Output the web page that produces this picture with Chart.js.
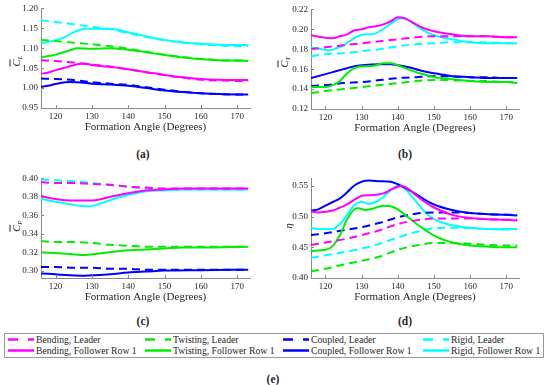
<!DOCTYPE html>
<html>
<head>
<meta charset="utf-8">
<script src="https://cdn.jsdelivr.net/npm/chart.js@4.4.1/dist/chart.umd.min.js"></script>
<style>
  body { margin: 0; background: #fff; font-family: "Liberation Serif", "Times New Roman", serif; color: #262626; }
  #page { position: relative; width: 550px; height: 385px; overflow: hidden; }
  canvas { position: absolute; }
  .ylab { position: absolute; font-size: 10.5px; transform: translate(-50%, -50%) rotate(-90deg); white-space: nowrap; }
  .ylab sub { font-size: 7px; font-style: italic; vertical-align: -2px; }
  .ov { text-decoration: overline; font-style: italic; }
  .tag { position: absolute; font-weight: bold; font-size: 11.5px; transform: translate(-50%, -50%); }
  #legend { position: absolute; left: 4px; top: 333px; width: 538px; height: 23px; border: 1px solid #999; }
  .item { position: absolute; font-size: 9.7px; line-height: 11px; white-space: nowrap; }
  .item svg { position: absolute; left: 0; top: 3px; }
  .item span { position: absolute; left: 28px; top: 0; }
</style>
</head>
<body>
<div id="page">
  <canvas id="chartA" width="260" height="134" style="left:0;top:0"></canvas>
  <canvas id="chartB" width="259" height="134" style="left:270px;top:1px"></canvas>
  <canvas id="chartC" width="260" height="134" style="left:0;top:170px"></canvas>
  <canvas id="chartD" width="259" height="134" style="left:270px;top:170px"></canvas>

  <div class="ylab" style="left:17px;top:61px"><span class="ov">C</span><sub>L</sub></div>
  <div class="ylab" style="left:285px;top:62px"><span class="ov">C</span><sub>T</sub></div>
  <div class="ylab" style="left:17px;top:226px"><span class="ov">C</span><sub>P</sub></div>
  <div class="ylab" style="left:288px;top:226px"><i>η</i></div>

  <div class="tag" style="left:143px;top:154px">(a)</div>
  <div class="tag" style="left:405px;top:154px">(b)</div>
  <div class="tag" style="left:143px;top:321px">(c)</div>
  <div class="tag" style="left:405px;top:321px">(d)</div>
  <div class="tag" style="left:273px;top:379px">(e)</div>

  <div id="legend"></div>
</div>

<script>
/* ================= DATA ================= */
const xTicks = [120, 130, 140, 150, 160, 170];
const xMin = 116, xMax = 173.5;

// (a) lift coefficient, [angle, value]
const clBendLead  = [[116,1.070],[120,1.068],[125,1.064],[130,1.059],[135,1.054],[140,1.047],[145,1.040],[150,1.032],[155,1.026],[160,1.021],[165,1.019],[170,1.018],[173,1.018]];
const clBendFoll  = [[116,1.036],[118,1.039],[120,1.045],[123,1.052],[126,1.060],[128,1.062],[130,1.058],[133,1.055],[136,1.052],[140,1.047],[145,1.040],[150,1.033],[155,1.027],[160,1.023],[165,1.021],[170,1.020],[173,1.020]];
const clTwistLead = [[116,1.121],[120,1.118],[125,1.114],[130,1.110],[135,1.105],[140,1.099],[145,1.091],[150,1.084],[155,1.078],[160,1.073],[165,1.070],[170,1.069],[173,1.069]];
const clTwistFoll = [[116,1.077],[120,1.084],[124,1.095],[126,1.100],[130,1.099],[135,1.100],[140,1.096],[145,1.090],[150,1.083],[155,1.077],[160,1.073],[165,1.070],[170,1.069],[173,1.068]];
const clCoupLead  = [[116,1.024],[120,1.023],[125,1.020],[130,1.015],[135,1.011],[140,1.008],[145,1.002],[150,0.996],[155,0.991],[160,0.987],[165,0.985],[170,0.984],[173,0.984]];
const clCoupFoll  = [[116,1.003],[118,1.006],[120,1.010],[124,1.015],[127,1.014],[130,1.011],[135,1.009],[140,1.006],[145,1.000],[150,0.994],[155,0.990],[160,0.987],[165,0.985],[170,0.984],[173,0.984]];
const clRigidLead = [[116,1.170],[120,1.166],[125,1.160],[130,1.154],[135,1.148],[140,1.138],[145,1.128],[150,1.120],[155,1.114],[160,1.110],[165,1.107],[170,1.105],[173,1.105]];
const clRigidFoll = [[116,1.113],[118,1.116],[120,1.120],[122,1.126],[125,1.140],[128,1.149],[130,1.149],[135,1.148],[138,1.145],[140,1.140],[145,1.130],[150,1.121],[155,1.115],[160,1.111],[165,1.109],[170,1.108],[173,1.108]];
const clTicks = [0.95, 1.00, 1.05, 1.10, 1.15, 1.20];

// (b) thrust coefficient
const ctBendLead  = [[116,0.180],[120,0.182],[125,0.184],[130,0.186],[135,0.188],[140,0.190],[145,0.192],[150,0.193],[155,0.193],[160,0.193],[165,0.193],[170,0.192],[173,0.192]];
const ctBendFoll  = [[116,0.194],[119,0.192],[122,0.191],[124,0.193],[126,0.195],[128,0.199],[130,0.200],[132,0.202],[134,0.203],[136,0.205],[138,0.208],[140,0.212],[142,0.211],[144,0.207],[146,0.203],[148,0.200],[150,0.198],[155,0.195],[160,0.193],[165,0.193],[170,0.192],[173,0.192]];
const ctTwistLead = [[116,0.136],[120,0.138],[125,0.140],[130,0.142],[135,0.144],[140,0.146],[145,0.148],[150,0.149],[155,0.149],[160,0.148],[165,0.148],[170,0.147],[173,0.147]];
const ctTwistFoll = [[116,0.142],[120,0.142],[122,0.144],[124,0.148],[126,0.156],[128,0.161],[130,0.163],[132,0.163],[134,0.164],[136,0.166],[138,0.166],[140,0.164],[142,0.161],[145,0.157],[148,0.154],[150,0.152],[155,0.150],[160,0.148],[165,0.147],[170,0.147],[173,0.146]];
const ctCoupLead  = [[116,0.143],[120,0.144],[125,0.146],[130,0.147],[135,0.149],[140,0.151],[145,0.152],[150,0.153],[155,0.153],[160,0.152],[165,0.152],[170,0.151],[173,0.151]];
const ctCoupFoll  = [[116,0.151],[118,0.153],[120,0.155],[122,0.157],[125,0.160],[128,0.163],[130,0.164],[135,0.165],[138,0.165],[140,0.164],[143,0.162],[146,0.159],[150,0.156],[155,0.153],[160,0.152],[165,0.151],[170,0.151],[173,0.151]];
const ctRigidLead = [[116,0.173],[120,0.175],[125,0.176],[130,0.178],[135,0.180],[140,0.183],[145,0.185],[150,0.186],[155,0.187],[160,0.187],[165,0.187],[170,0.186],[173,0.186]];
const ctRigidFoll = [[116,0.182],[119,0.180],[121,0.179],[123,0.181],[125,0.184],[127,0.189],[129,0.193],[131,0.195],[133,0.195],[135,0.198],[137,0.203],[139,0.208],[141,0.211],[143,0.209],[145,0.204],[147,0.199],[150,0.194],[155,0.190],[160,0.187],[165,0.186],[170,0.186],[173,0.186]];
const ctTicks = [0.12, 0.14, 0.16, 0.18, 0.20, 0.22];

// (c) power coefficient
const cpBendLead  = [[116,0.396],[120,0.395],[125,0.395],[130,0.394],[135,0.393],[140,0.391],[145,0.390],[150,0.389],[160,0.389],[173,0.389]];
const cpBendFoll  = [[116,0.381],[118,0.379],[121,0.377],[124,0.376],[127,0.376],[130,0.376],[133,0.378],[136,0.381],[140,0.384],[145,0.387],[150,0.388],[155,0.389],[160,0.389],[173,0.389]];
const cpTwistLead = [[116,0.332],[120,0.331],[125,0.331],[130,0.330],[135,0.328],[140,0.327],[145,0.326],[150,0.326],[160,0.326],[173,0.326]];
const cpTwistFoll = [[116,0.320],[120,0.319],[124,0.318],[128,0.317],[131,0.318],[135,0.320],[140,0.322],[145,0.323],[150,0.324],[155,0.325],[160,0.325],[173,0.326]];
const cpCoupLead  = [[116,0.304],[120,0.304],[125,0.303],[130,0.303],[135,0.302],[140,0.302],[145,0.301],[150,0.301],[160,0.301],[173,0.301]];
const cpCoupFoll  = [[116,0.297],[120,0.296],[124,0.295],[128,0.2945],[131,0.295],[135,0.296],[140,0.298],[145,0.299],[150,0.300],[160,0.3005],[173,0.301]];
const cpRigidLead = [[116,0.399],[120,0.398],[125,0.397],[130,0.395],[135,0.393],[140,0.391],[145,0.389],[150,0.388],[160,0.388],[173,0.388]];
const cpRigidFoll = [[116,0.378],[118,0.376],[121,0.374],[124,0.372],[127,0.370],[129,0.3695],[131,0.371],[134,0.375],[137,0.379],[140,0.382],[145,0.386],[150,0.387],[155,0.388],[160,0.388],[173,0.388]];
const cpTicks = [0.30, 0.32, 0.34, 0.36, 0.38, 0.40];

// (d) efficiency
const etaBendLead  = [[116,0.454],[120,0.458],[125,0.463],[130,0.470],[135,0.478],[140,0.488],[145,0.494],[150,0.497],[155,0.497],[160,0.497],[165,0.496],[170,0.495],[173,0.495]];
const etaBendFoll  = [[116,0.509],[118,0.507],[120,0.508],[122,0.510],[124,0.515],[126,0.520],[128,0.528],[130,0.534],[132,0.535],[134,0.536],[136,0.538],[138,0.544],[140,0.549],[141,0.550],[143,0.545],[145,0.535],[148,0.522],[150,0.515],[155,0.503],[160,0.498],[165,0.496],[170,0.495],[173,0.494]];
const etaTwistLead = [[116,0.411],[120,0.415],[125,0.422],[130,0.428],[135,0.435],[140,0.446],[145,0.453],[150,0.457],[155,0.457],[160,0.456],[165,0.454],[170,0.453],[173,0.453]];
const etaTwistFoll = [[116,0.444],[118,0.445],[120,0.446],[122,0.452],[124,0.470],[126,0.496],[128,0.512],[129,0.514],[131,0.511],[133,0.513],[136,0.518],[138,0.517],[140,0.512],[142,0.503],[145,0.489],[148,0.477],[150,0.469],[155,0.458],[160,0.453],[165,0.451],[170,0.450],[173,0.450]];
const etaCoupLead  = [[116,0.470],[120,0.473],[125,0.478],[130,0.483],[135,0.490],[140,0.499],[145,0.505],[150,0.507],[155,0.507],[160,0.506],[165,0.504],[170,0.503],[173,0.503]];
const etaCoupFoll  = [[116,0.510],[118,0.512],[120,0.518],[122,0.524],[124,0.530],[126,0.540],[128,0.551],[130,0.557],[132,0.559],[135,0.558],[138,0.557],[140,0.553],[142,0.547],[145,0.537],[148,0.526],[150,0.520],[155,0.511],[160,0.506],[165,0.504],[170,0.503],[173,0.502]];
const etaRigidLead = [[116,0.433],[120,0.437],[125,0.442],[130,0.448],[135,0.456],[140,0.466],[145,0.475],[150,0.481],[155,0.482],[160,0.481],[165,0.480],[170,0.479],[173,0.479]];
const etaRigidFoll = [[116,0.482],[118,0.480],[120,0.480],[122,0.480],[124,0.488],[126,0.503],[128,0.519],[130,0.524],[132,0.521],[134,0.524],[136,0.532],[138,0.543],[140,0.551],[142,0.546],[144,0.532],[146,0.518],[148,0.505],[150,0.496],[155,0.486],[160,0.482],[165,0.480],[170,0.480],[173,0.480]];
const etaTicks = [0.40, 0.45, 0.50, 0.55];

/* ================= STYLE ================= */
const cases = ["Bending", "Twisting", "Coupled", "Rigid"];
const caseColors = ["#ff00ff", "#00ee00", "#0000ff", "#00ffff"];
const dashPattern = [8, 5];
const axisColor = "#8a8a8a";
const textColor = "#262626";
const serif = "'Liberation Serif', 'Times New Roman', serif";

// small tick marks pointing into the plot, like the original figure
const innerTicks = {
  id: "innerTicks",
  afterDraw(chart) {
    const { ctx, chartArea: a, scales: { x, y } } = chart;
    ctx.save();
    ctx.strokeStyle = axisColor;
    ctx.lineWidth = 1;
    x.ticks.forEach(t => {
      const px = Math.round(x.getPixelForValue(t.value)) + 0.5;
      ctx.beginPath(); ctx.moveTo(px, a.bottom); ctx.lineTo(px, a.bottom - 3); ctx.stroke();
    });
    y.ticks.forEach(t => {
      const py = Math.round(y.getPixelForValue(t.value)) + 0.5;
      ctx.beginPath(); ctx.moveTo(a.left, py); ctx.lineTo(a.left + 3, py); ctx.stroke();
    });
    ctx.restore();
  }
};

function toPoints(arr) {
  return arr.map(p => ({ x: p[0], y: p[1] }));
}

function makePanel(id, leaders, followers, yMin, yMax, yTicks) {
  const datasets = [];
  cases.forEach((name, i) => {
    datasets.push({
      label: name + ", Follower Row 1",
      data: toPoints(followers[i]),
      borderColor: caseColors[i],
      borderWidth: 2,
      pointRadius: 0,
      cubicInterpolationMode: "monotone",
      fill: false
    });
    datasets.push({
      label: name + ", Leader",
      data: toPoints(leaders[i]),
      borderColor: caseColors[i],
      borderWidth: 2,
      borderDash: dashPattern,
      pointRadius: 0,
      cubicInterpolationMode: "monotone",
      fill: false
    });
  });

  new Chart(document.getElementById(id), {
    type: "line",
    data: { datasets },
    plugins: [innerTicks],
    options: {
      responsive: false,
      animation: false,
      devicePixelRatio: 1,
      layout: { padding: { top: 7, right: 10, left: 0, bottom: 0 } },
      plugins: { legend: { display: false }, tooltip: { enabled: false } },
      scales: {
        x: {
          type: "linear",
          min: xMin,
          max: xMax,
          afterBuildTicks: s => { s.ticks = xTicks.map(v => ({ value: v })); },
          afterFit: s => { s.height = 26; },
          grid: { display: false, drawTicks: false },
          border: { display: true, color: axisColor, width: 1 },
          ticks: { padding: 3, color: textColor, font: { family: serif, size: 9 }, maxRotation: 0 },
          title: {
            display: true,
            text: "Formation Angle (Degrees)",
            color: textColor,
            padding: 0,
            font: { family: serif, size: 11 }
          }
        },
        y: {
          type: "linear",
          min: yMin,
          max: yMax,
          afterBuildTicks: s => { s.ticks = yTicks.map(v => ({ value: v })); },
          afterFit: s => { s.width = 41; },
          grid: { display: false, drawTicks: false },
          border: { display: true, color: axisColor, width: 1 },
          ticks: { padding: 3, color: textColor, font: { family: serif, size: 9 }, callback: v => v.toFixed(2) }
        }
      }
    }
  });
}

makePanel("chartA",
  [clBendLead, clTwistLead, clCoupLead, clRigidLead],
  [clBendFoll, clTwistFoll, clCoupFoll, clRigidFoll], 0.95, 1.20, clTicks);
makePanel("chartB",
  [ctBendLead, ctTwistLead, ctCoupLead, ctRigidLead],
  [ctBendFoll, ctTwistFoll, ctCoupFoll, ctRigidFoll], 0.12, 0.22, ctTicks);
makePanel("chartC",
  [cpBendLead, cpTwistLead, cpCoupLead, cpRigidLead],
  [cpBendFoll, cpTwistFoll, cpCoupFoll, cpRigidFoll], 0.292, 0.40, cpTicks);
makePanel("chartD",
  [etaBendLead, etaTwistLead, etaCoupLead, etaRigidLead],
  [etaBendFoll, etaTwistFoll, etaCoupFoll, etaRigidFoll], 0.40, 0.5625, etaTicks);

/* ================= LEGEND (e) ================= */
const legendCols = [3, 140, 278, 418];
const legend = document.getElementById("legend");
cases.forEach((name, i) => {
  [["Leader", "10 10"], ["Follower Row 1", null]].forEach(([kind, dash], row) => {
    const item = document.createElement("div");
    item.className = "item";
    item.style.left = legendCols[i] + "px";
    item.style.top = (row === 0 ? 0 : 11) + "px";
    const dashAttr = dash ? ` stroke-dasharray="${dash}"` : "";
    item.innerHTML =
      `<svg width="26" height="5"><line x1="0" y1="2.5" x2="26" y2="2.5" stroke="${caseColors[i]}" stroke-width="2.5"${dashAttr}/></svg>` +
      `<span>${name}, ${kind}</span>`;
    legend.appendChild(item);
  });
});
</script>
</body>
</html>
